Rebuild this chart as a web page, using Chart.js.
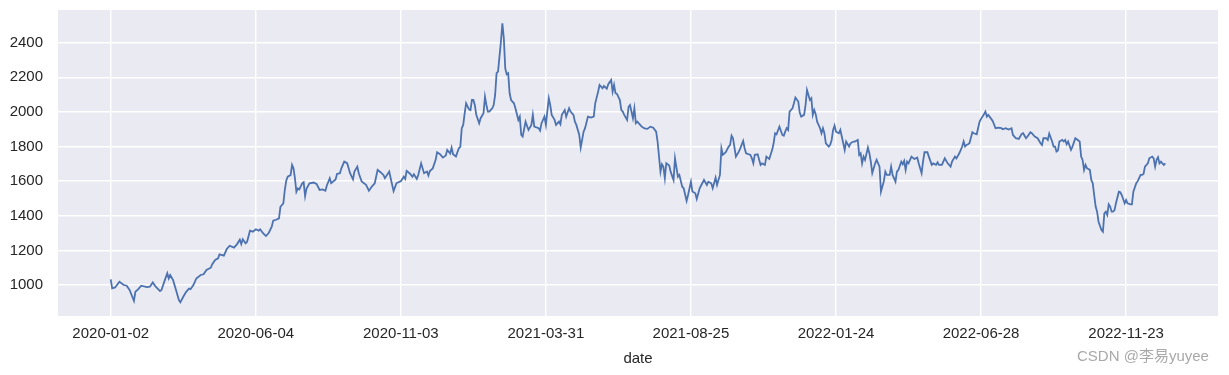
<!DOCTYPE html>
<html>
<head>
<meta charset="utf-8">
<title>date close</title>
<script src="https://cdn.jsdelivr.net/npm/chart.js@4.4.0/dist/chart.umd.min.js"></script>
<style>
  html, body { margin: 0; padding: 0; background: #ffffff; }
  #wrap { position: relative; width: 1229px; height: 375px; }
  #watermark {
    position: absolute; left: 1077px; top: 347px;
    font: 15px 'Liberation Sans', 'Noto Sans CJK SC', sans-serif;
    line-height: 18px; color: #a9a9a9; white-space: nowrap;
  }
</style>
</head>
<body>
<div id="wrap">
  <canvas id="closeChart" width="1229" height="375"></canvas>
  <div id="watermark">CSDN @李易yuyee</div>
</div>
<script>
// x tick positions (trading day index) and their date labels
const tickDays = [0, 100, 200, 300, 400, 500, 600, 700];
const tickDates = ['2020-01-02', '2020-06-04', '2020-11-03', '2021-03-31',
                   '2021-08-25', '2022-01-24', '2022-06-28', '2022-11-23'];
const yTicks = [1000, 1200, 1400, 1600, 1800, 2000, 2200, 2400];

// [trading day index, close]
const dayClose = [
  [0,1033],[1,981],[3,986],[6,1019],[9,1000],[11,996],[13,971],[16,908],[17,961],[19,976],
  [21,996],[25,988],[27,990],[29,1015],[31,990],[34,965],[35,971],[37,1021],[39,1068],[40,1038],
  [41,1058],[43,1028],[45,971],[47,913],[48,900],[50,932],[52,961],[54,979],[55,976],[57,1000],
  [59,1038],[62,1058],[64,1062],[66,1087],[69,1100],[70,1120],[72,1145],[74,1154],[75,1177],[78,1170],
  [80,1208],[82,1227],[85,1216],[87,1235],
  [89,1262],[90,1237],[91,1264],[93,1241],[94,1250],[96,1314],[98,1308],[100,1322],[102,1314],[103,1322],
  [105,1299],[107,1283],[109,1302],[111,1337],[112,1372],[114,1377],[116,1385],[117,1452],[119,1472],[120,1549],
  [121,1603],[122,1626],[124,1635],[125,1694],[126,1674],[127,1616],[128,1539],[129,1558],[130,1552],[132,1588],
  [133,1594],[134,1514],[135,1558],[137,1588],[140,1592],[142,1583],[144,1549],[146,1552],[148,1545],[149,1575],
  [151,1617],[152,1588],[155,1610],[156,1642],[158,1646],[159,1674],[161,1713],[163,1704],[165,1646],[167,1611],
  [168,1656],[170,1684],[171,1646],[173,1598],[176,1579],[178,1545],[180,1569],[182,1588],[184,1665],[186,1652],
  [188,1636],[189,1617],
  [192,1656],[193,1617],[195,1543],[197,1588],[198,1592],[200,1600],[202,1626],[203,1613],[204,1659],[206,1646],
  [208,1626],[209,1640],[211,1613],[212,1636],[214,1703],[216,1646],[218,1656],[219,1633],[220,1659],[222,1674],
  [224,1723],[225,1767],[227,1756],[229,1736],[231,1748],[232,1780],[234,1760],[235,1794],[236,1756],[238,1743],
  [240,1790],[241,1798],[242,1906],[243,1925],[244,1992],[245,2050],[247,2015],[248,2011],[249,2069],[250,2069],
  [251,2040],[252,1983],[254,1935],[255,1964],[257,1992],[258,2088],[259,2040],[260,2002],[261,2002],[263,2021],
  [264,2040],[265,2098],[266,2224],[267,2233],[268,2320],[269,2406],[270,2512],[271,2426],[272,2250],[273,2218],
  [274,2224],[275,2108],[276,2069],[278,2050],[279,2021],[281,1954],[282,1973],[283,1867],[284,1858],[286,1944],
  [288,1896],[290,1925],[291,1983],[292,1915],[295,1906],[296,1892],[297,1935],[299,1973],[300,1925],[302,2079],
  [303,2040],[304,1983],[306,1954],[307,1925],[309,1944],[310,1929],[311,1983],[313,2011],[314,1973],[316,2021],
  [317,2002],[319,1983],[320,1944],[321,1925],[323,1867],[324,1794],[326,1886],[327,1906],[329,1973],[331,1967],
  [333,1973],[334,2050],[336,2117],[337,2156],[339,2137],[340,2150],[342,2135],[343,2160],[345,2185],[346,2117],
  [347,2156],[348,2108],[349,2104],[351,2069],[352,2011],[353,2002],[354,1983],[356,1954],[357,2030],[358,2040],
  [360,1964],[361,2021],[362,1935],[363,1944],[365,1925],[366,1915],[368,1905],
  [370,1902],[372,1915],[374,1909],[376,1886],[377,1828],[379,1655],[380,1698],[381,1683],[382,1617],[383,1704],
  [385,1690],[386,1655],[388,1607],[389,1732],[391,1626],[392,1636],[394,1568],[395,1559],[397,1486],[398,1520],
  [400,1597],[401,1540],[403,1530],[404,1497],[406,1559],[407,1575],[409,1607],[411,1578],[412,1597],[414,1588],
  [415,1559],[417,1620],[418,1578],[420,1636],[421,1790],[422,1752],[424,1767],[426,1800],[427,1810],[428,1863],
  [429,1848],[431,1742],[433,1771],[434,1790],[436,1832],[437,1790],[438,1761],[441,1752],[442,1732],[443,1703],
  [444,1752],[446,1755],[448,1694],[449,1703],[451,1694],[452,1742],[454,1728],[456,1781],[457,1819],[458,1877],
  [459,1871],[461,1915],
  [463,1867],[464,1863],[465,1886],[466,1906],[467,1896],[468,2002],[470,2021],[471,2050],[472,2083],[474,2060],
  [475,1996],[476,1973],[478,1983],[479,2040],[480,2127],[482,2069],[483,2079],[484,1983],[485,2011],[486,1987],
  [487,1944],[489,1906],[490,1877],[491,1906],[492,1877],[493,1819],[495,1800],[496,1810],[497,1838],[498,1896],
  [499,1921],[500,1886],[502,1877],[503,1896],[505,1819],[506,1780],[507,1829],[509,1800],[510,1819],[512,1829],
  [513,1829],[515,1838],[516,1751],[517,1761],[518,1703],[519,1742],[520,1723],[522,1794],[523,1761],[524,1713],
  [525,1646],[527,1703],[528,1723],[530,1684],[531,1539],[533,1600],[534,1655],[535,1636],[537,1636],[538,1684],
  [539,1636],[541,1597],[542,1655],[543,1665],[545,1713],[546,1698],[547,1717],[548,1665],[549,1713],[550,1703],
  [552,1742],[554,1728],
  [556,1736],[557,1703],[559,1646],[560,1713],[561,1767],[563,1767],[564,1742],[566,1694],[567,1703],[569,1694],
  [570,1709],[571,1694],[573,1694],[575,1732],[577,1703],[579,1684],[580,1713],[582,1742],[583,1732],[585,1761],
  [587,1800],[588,1829],[589,1800],[590,1809],[591,1813],[592,1819],[594,1883],[595,1877],[597,1871],[599,1944],
  [600,1960],[602,1987],[603,2002],[604,1973],[605,1983],[607,1960],[608,1948],[610,1906],[612,1909],[614,1906],
  [615,1900],[617,1906],[619,1898],[621,1906],[622,1867],[624,1848],[626,1844],[628,1873],[629,1877],[631,1848],
  [632,1858],[634,1883],[635,1877],[637,1858],[639,1848],[641,1819],[642,1809],[643,1848],[645,1848],[646,1838],
  [647,1875],[649,1829],[650,1800],
  [651,1800],[652,1771],[653,1777],[654,1829],[656,1838],[657,1829],[658,1838],[659,1813],[660,1829],[662,1781],
  [663,1800],[665,1848],[666,1842],[668,1829],[669,1742],[670,1723],[671,1665],[672,1694],[673,1675],[675,1665],
  [676,1607],[677,1588],[678,1520],[679,1453],[680,1424],[681,1366],[683,1318],[684,1308],[685,1414],[686,1424],
  [687,1405],[688,1466],[689,1453],[690,1424],[691,1424],[692,1433],[693,1472],[695,1539],[696,1536],[697,1520],
  [699,1472],[700,1491],[701,1472],[703,1466],[704,1466],[705,1539],[707,1588],[708,1600],[710,1636],[711,1636],
  [712,1642],[713,1684],[715,1703],[716,1732],[718,1742],[719,1732],[720,1684],[721,1723],[722,1738],[723,1703],
  [724,1713],[725,1703],[726,1694],[727,1703]
];

const textColor = '#262626';
const axisFont = { family: "'Liberation Sans', Arial, sans-serif", size: 15 };

// seaborn style grey plot background
const plotBackground = {
  id: 'plotBackground',
  beforeDraw(chart) {
    const { ctx, chartArea: a } = chart;
    ctx.save();
    ctx.fillStyle = '#EAEAF2';
    ctx.fillRect(a.left, a.top, a.right - a.left, a.bottom - a.top);
    ctx.restore();
  }
};

// fixed box sizes so the plot area sits where the reference has it
function noEdgePadding(scale) {
  scale.paddingTop = 0;
  scale.paddingBottom = 0;
  scale.paddingLeft = 0;
  scale.paddingRight = 0;
}

new Chart(document.getElementById('closeChart'), {
  type: 'line',
  data: {
    datasets: [{
      label: 'close',
      data: dayClose.map(p => ({ x: p[0], y: p[1] })),
      borderColor: '#4C72B0',
      borderWidth: 1.8,
      pointRadius: 0,
      tension: 0,
      fill: false
    }]
  },
  options: {
    responsive: false,
    animation: false,
    layout: { padding: { top: 10, right: 11, bottom: 0, left: 0 } },
    plugins: {
      legend: { display: false },
      tooltip: { enabled: false }
    },
    scales: {
      x: {
        type: 'linear',
        min: -36.35,
        max: 763.35,
        afterBuildTicks: scale => { scale.ticks = tickDays.map(v => ({ value: v })); },
        afterFit: scale => { scale.height = 59; noEdgePadding(scale); },
        ticks: {
          callback: (value, index) => tickDates[index],
          color: textColor,
          font: axisFont,
          padding: 9,
          maxRotation: 0,
          autoSkip: false
        },
        grid: { color: '#ffffff', lineWidth: 1.4, drawTicks: false },
        border: { display: false },
        title: {
          display: true,
          text: 'date',
          color: textColor,
          font: axisFont,
          padding: { top: 0, bottom: 7 }
        }
      },
      y: {
        min: 821,
        max: 2589,
        afterBuildTicks: scale => { scale.ticks = yTicks.map(v => ({ value: v })); },
        afterFit: scale => { scale.width = 58; noEdgePadding(scale); },
        ticks: {
          callback: value => String(value),
          color: textColor,
          font: axisFont,
          padding: 15
        },
        grid: { color: '#ffffff', lineWidth: 1.4, drawTicks: false },
        border: { display: false }
      }
    }
  },
  plugins: [plotBackground]
});
</script>
</body>
</html>
